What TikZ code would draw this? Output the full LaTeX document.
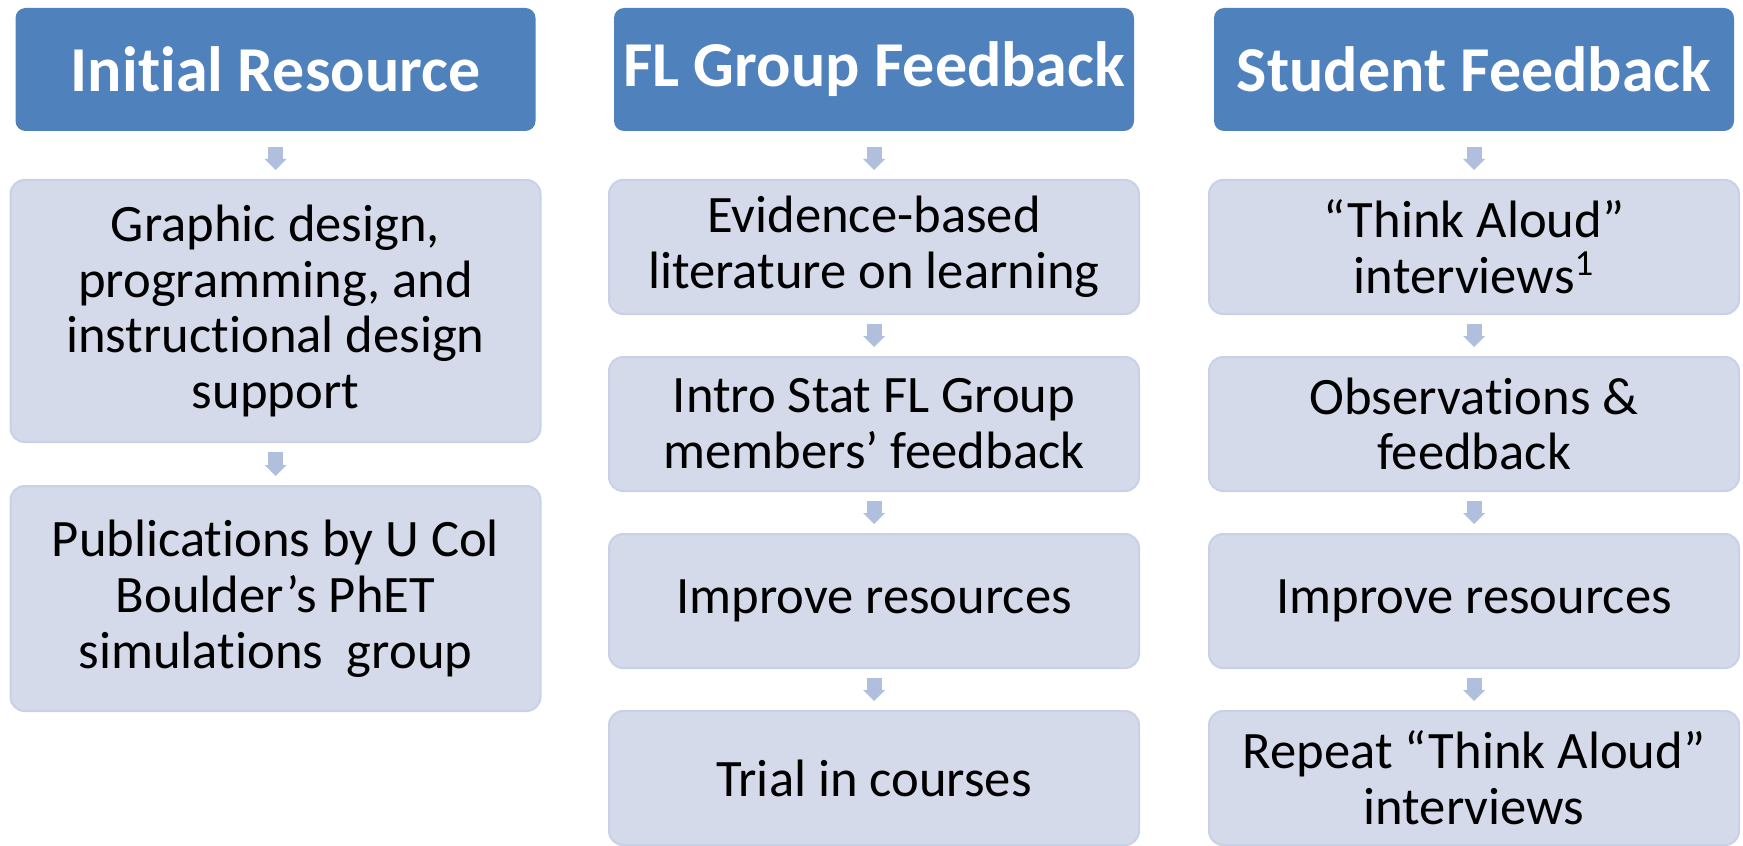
\documentclass[tikz,border=0pt]{standalone}
\usepackage{fontspec}
\setmainfont{Carlito}[Ligatures={TeX,NoCommon}]
\usetikzlibrary{arrows.meta,positioning}
\definecolor{headblue}{HTML}{4F81BD}
\definecolor{boxfill}{HTML}{D4DAEA}
\definecolor{boxedge}{HTML}{C9D1E6}
\definecolor{arrowblue}{HTML}{B0BFDD}
\tikzset{
  head/.style={
    fill=headblue,
    rounded corners=5pt,
    text=white,
    align=center,
    font=\fontsize{32}{36}\selectfont\bfseries,
    minimum width=260pt,
    minimum height=61.5pt,
    inner sep=0pt,
    outer sep=0pt
  },
  card/.style={
    fill=boxfill,
    draw=boxedge,
    line width=1pt,
    rounded corners=7pt,
    align=center,
    font=\fontsize{26.3}{27.9}\selectfont,
    minimum width=265pt,
    minimum height=67pt,
    inner sep=0pt,
    outer sep=0pt
  },
  flow/.style={
    draw=arrowblue,
    line width=7.5pt,
    -{Triangle[width=11pt,length=5.5pt,line width=0pt]},
    shorten <=5pt,
    shorten >=5pt
  }
}

\begin{document}
\begin{tikzpicture}[node distance=21.5pt]

\useasboundingbox (0,0) rectangle (871.5pt,-422.5pt);

% Initial resource column
\node[head] (init) at (137.75pt,-34.75pt) {Initial Resource};
\node[card, minimum height=131pt, below=24.5pt of init] (init_des) {Graphic design,\\programming, and\\instructional design\\support};
\node[card, minimum height=112.5pt, below=22pt of init_des] (init_pub) {Publications by U Col\\Boulder's PhET\\simulations~ group};

% FL group column
\node[head] (fl) at (437pt,-34.75pt) {FL Group Feedback};
\node[card, below=24.5pt of fl] (fl_lit) {Evidence-based\\literature on learning};
\node[card, below=of fl_lit] (fl_mem) {Intro Stat FL Group\\members' feedback};
\node[card, below=of fl_mem] (fl_imp) {Improve resources};
\node[card, below=of fl_imp] (fl_trial) {Trial in courses};

% Student column
\node[head] (stu) at (737pt,-34.75pt) {Student Feedback};
\node[card, below=24.5pt of stu] (stu_think) {``Think Aloud''\\interviews\textsuperscript{1}};
\node[card, below=of stu_think] (stu_obs) {Observations \&\\feedback};
\node[card, below=of stu_obs] (stu_imp) {Improve resources};
\node[card, below=of stu_imp] (stu_rep) {Repeat ``Think Aloud''\\interviews};

% Connections
\draw[flow, shorten <=8pt] (init) -- (init_des);
\draw[flow] (init_des) -- (init_pub);

\draw[flow, shorten <=8pt] (fl) -- (fl_lit);
\draw[flow] (fl_lit) -- (fl_mem);
\draw[flow] (fl_mem) -- (fl_imp);
\draw[flow] (fl_imp) -- (fl_trial);

\draw[flow, shorten <=8pt] (stu) -- (stu_think);
\draw[flow] (stu_think) -- (stu_obs);
\draw[flow] (stu_obs) -- (stu_imp);
\draw[flow] (stu_imp) -- (stu_rep);

\end{tikzpicture}
\end{document}
